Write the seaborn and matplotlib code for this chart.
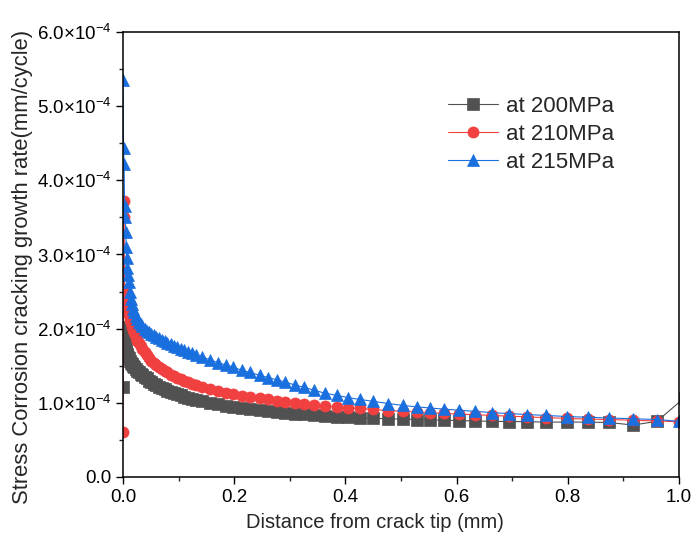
import numpy as np
import pandas as pd
import seaborn as sns
import matplotlib as mpl
import matplotlib.pyplot as plt
from matplotlib.ticker import MultipleLocator, FuncFormatter

# distance from crack tip (mm), shared by the three series
distance = [
    0.0, 0.001, 0.002, 0.003, 0.004, 0.005, 0.006, 0.007, 0.008, 0.009,
    0.010, 0.012, 0.014, 0.016, 0.018, 0.020, 0.023, 0.026, 0.029, 0.032,
    0.035, 0.039, 0.043, 0.047, 0.051, 0.055, 0.060, 0.065, 0.070, 0.075,
    0.080, 0.086, 0.092, 0.098, 0.104, 0.110, 0.117, 0.124, 0.131, 0.1415,
    0.1565, 0.1714, 0.1853, 0.1984, 0.2135, 0.2284, 0.2464, 0.2614, 0.2765, 0.2914,
    0.3094, 0.3255, 0.3435, 0.3633, 0.3843, 0.4052, 0.4262, 0.4502, 0.4772, 0.5036,
    0.5288, 0.5522, 0.5773, 0.6043, 0.6331, 0.6637, 0.6942, 0.7266, 0.7608, 0.7986,
    0.8363, 0.8741, 0.9173, 0.9604, 1.0,
]
# the 200 MPa series runs a little past the right edge
distance_200 = distance[:-1] + [1.01]

# growth rate, in units of 1e-4 mm/cycle
rate_200 = [
    1.22, 2.02, 1.90, 1.82, 1.76, 1.72, 1.69, 1.66, 1.64, 1.62,
    1.60, 1.57, 1.54, 1.52, 1.50, 1.48, 1.46, 1.43, 1.41, 1.39,
    1.37, 1.35, 1.33, 1.30, 1.28, 1.26, 1.24, 1.22, 1.20, 1.18,
    1.165, 1.15, 1.13, 1.115, 1.10, 1.085, 1.07, 1.055, 1.04, 1.02,
    1.00, 0.98, 0.96, 0.945, 0.93, 0.915, 0.90, 0.89, 0.875, 0.865,
    0.855, 0.845, 0.835, 0.825, 0.815, 0.81, 0.80, 0.79, 0.785, 0.78,
    0.775, 0.77, 0.765, 0.76, 0.755, 0.75, 0.748, 0.745, 0.74, 0.74,
    0.74, 0.735, 0.70, 0.75, 1.07,
]
rate_210 = [
    0.61, 3.72, 3.50, 2.52, 2.45, 2.40, 2.34, 2.29, 2.25, 2.21,
    2.18, 2.12, 2.07, 2.02, 1.98, 1.94, 1.89, 1.84, 1.80, 1.76,
    1.72, 1.68, 1.64, 1.60, 1.57, 1.54, 1.51, 1.48, 1.45, 1.43,
    1.41, 1.38, 1.36, 1.34, 1.32, 1.30, 1.28, 1.26, 1.24, 1.21,
    1.18, 1.155, 1.135, 1.115, 1.095, 1.08, 1.06, 1.045, 1.03, 1.015,
    1.00, 0.99, 0.975, 0.96, 0.945, 0.935, 0.925, 0.91, 0.895, 0.885,
    0.875, 0.865, 0.857, 0.848, 0.84, 0.83, 0.82, 0.81, 0.80, 0.79,
    0.78, 0.775, 0.765, 0.755, 0.745,
]
rate_215 = [
    5.35, 4.43, 4.22, 3.65, 3.50, 3.30, 3.10, 2.95, 2.82, 2.72,
    2.63, 2.50, 2.40, 2.33, 2.27, 2.22, 2.17, 2.13, 2.09, 2.06,
    2.03, 2.00, 1.97, 1.95, 1.93, 1.91, 1.89, 1.87, 1.85, 1.83,
    1.81, 1.79, 1.77, 1.75, 1.73, 1.71, 1.69, 1.67, 1.65, 1.62,
    1.58, 1.54, 1.51, 1.48, 1.44, 1.41, 1.37, 1.34, 1.31, 1.28,
    1.24, 1.21, 1.17, 1.13, 1.10, 1.07, 1.045, 1.02, 0.99, 0.965,
    0.945, 0.93, 0.915, 0.90, 0.885, 0.868, 0.855, 0.842, 0.83, 0.815,
    0.805, 0.795, 0.785, 0.775, 0.75,
]

labels = ["at 200MPa", "at 210MPa", "at 215MPa"]
colors = ["#515151", "#F14040", "#1A6FDF"]
markers = ["s", "o", "^"]

sns.set_style("ticks")
mpl.rcParams["font.family"] = ["Liberation Sans", "DejaVu Sans"]
mpl.rcParams["mathtext.fontset"] = "custom"
mpl.rcParams["mathtext.rm"] = "Liberation Sans"
mpl.rcParams["mathtext.it"] = "Liberation Sans:italic"

fig = plt.figure(figsize=(6.92, 5.48), dpi=100)
ax = fig.add_axes([0.1777, 0.1296, 0.8035, 0.812])

series = zip([distance_200, distance, distance], [rate_200, rate_210, rate_215],
             labels, colors, markers)
for xs, rates, label, color, marker in series:
    df = pd.DataFrame({"x": xs, "y": np.array(rates) * 1e-4})
    sns.lineplot(
        data=df, x="x", y="y", ax=ax, sort=False, estimator=None,
        color=color, linewidth=0.8, marker=marker, markersize=8,
        markeredgecolor=color, markeredgewidth=0.5, label=label,
    )

ax.set_xlim(0, 1.0)
ax.set_ylim(0, 6e-4)
ax.xaxis.set_major_locator(MultipleLocator(0.2))
ax.xaxis.set_minor_locator(MultipleLocator(0.1))
ax.yaxis.set_major_locator(MultipleLocator(1e-4))
ax.yaxis.set_minor_locator(MultipleLocator(0.5e-4))


def sci_fmt(v, pos):
    m = v / 1e-4
    if abs(m) < 1e-9:
        return "0.0"
    return f"{m:.1f}×10$^{{-4}}$"


ax.yaxis.set_major_formatter(FuncFormatter(sci_fmt))
ax.xaxis.set_major_formatter(FuncFormatter(lambda v, p: f"{v:.1f}"))
ax.tick_params(which="major", direction="out", length=5, width=1, labelsize=13.5, colors="black")
ax.tick_params(which="minor", direction="out", length=3, width=1)
for s in ax.spines.values():
    s.set_linewidth(1.1)
    s.set_color("black")

ax.set_xlabel("Distance from crack tip (mm)", fontsize=14.5)
ax.set_ylabel("Stress Corrosion cracking growth rate(mm/cycle)", fontsize=15.8)
ax.xaxis.set_label_coords(0.453, -0.082)
ax.yaxis.set_label_coords(-0.162, 0.472)

ax.legend(
    loc="upper left", bbox_to_anchor=(0.569, 0.876), frameon=False, fontsize=16,
    handlelength=2.25, handletextpad=0.35, labelspacing=0.31, borderaxespad=0,
)

fig.savefig("out.png", dpi=100)
